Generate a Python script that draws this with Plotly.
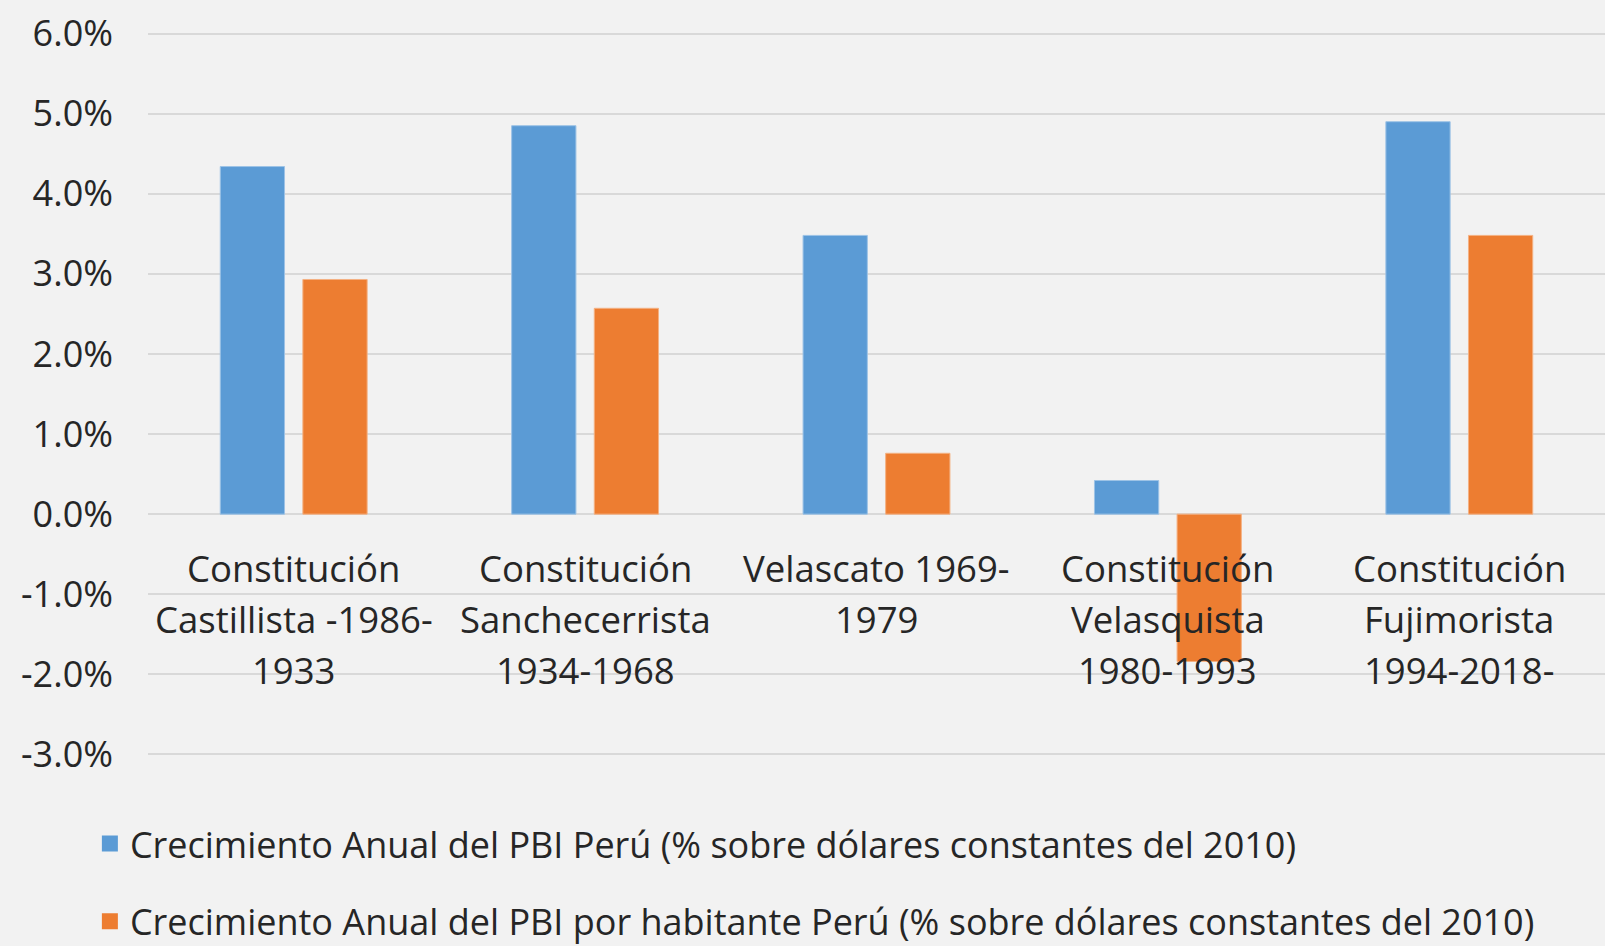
import plotly.graph_objects as go

# periodos constitucionales
periodos = [
    "Constitución<br>Castillista -1986-<br>1933",
    "Constitución<br>Sanchecerrista<br>1934-1968",
    "Velascato 1969-<br>1979",
    "Constitución<br>Velasquista<br>1980-1993",
    "Constitución<br>Fujimorista<br>1994-2018-",
]
pbi = [0.0434, 0.0485, 0.0348, 0.0042, 0.0490]
pbi_hab = [0.0293, 0.0257, 0.0076, -0.0184, 0.0348]

nombre_pbi = "Crecimiento Anual del PBI Perú (% sobre dólares constantes del 2010)"
nombre_hab = "Crecimiento Anual del PBI por habitante Perú (% sobre dólares constantes del 2010)"

y_ticks = [-0.03, -0.02, -0.01, 0, 0.01, 0.02, 0.03, 0.04, 0.05, 0.06]
y_ticktext = ["-3.0%", "-2.0%", "-1.0%", "0.0%", "1.0%", "2.0%", "3.0%", "4.0%", "5.0%", "6.0%"]

FONT = "Open Sans"
TXT = "#262626"
AZUL = "#5B9BD5"
NARANJA = "#ED7D31"

fig = go.Figure()
fig.add_trace(go.Bar(x=periodos, y=pbi, name=nombre_pbi, showlegend=False,
                     marker_color=AZUL, marker_line_color="#9DC3E6", marker_line_width=1))
fig.add_trace(go.Bar(x=periodos, y=pbi_hab, name=nombre_hab, showlegend=False,
                     marker_color=NARANJA, marker_line_color="#F4B183", marker_line_width=1))
# entradas de leyenda con cuadro mas grande
fig.add_trace(go.Scatter(x=[None], y=[None], mode="markers", name=nombre_pbi, legendgroup="a",
                         marker=dict(symbol="square", size=20, color=AZUL)))
fig.add_trace(go.Scatter(x=[None], y=[None], mode="markers", name=nombre_hab, legendgroup="b",
                         marker=dict(symbol="square", size=20, color=NARANJA)))

# etiquetas de categoria junto al eje cero (como en Excel), una anotacion por linea
for p in periodos:
    for i, linea in enumerate(p.split("<br>")):
        fig.add_annotation(x=p, y=0, text=linea, showarrow=False, yanchor="middle",
                           yshift=-(54 + i * 51),
                           font=dict(family=FONT, size=36.5, color=TXT))

fig.update_layout(
    width=1605, height=946,
    paper_bgcolor="#F2F2F2", plot_bgcolor="#F2F2F2",
    margin=dict(l=148, r=0, t=32, b=190, autoexpand=False),
    barmode="group", bargap=0.433, bargroupgap=0.222,
    font=dict(family=FONT, color=TXT),
    legend=dict(orientation="v", xref="container", yref="container",
                x=0.056, y=0.140, xanchor="left", yanchor="top",
                font=dict(family=FONT, size=36, color=TXT),
                tracegroupgap=28, itemwidth=30, bgcolor="rgba(0,0,0,0)"),
    showlegend=True,
)
fig.update_xaxes(showticklabels=False, showgrid=False, zeroline=False, showline=False)
fig.update_yaxes(range=[-0.0302, 0.0602], tickvals=y_ticks, ticktext=y_ticktext,
                 gridcolor="#D9D9D9", gridwidth=2, zeroline=False,
                 tickfont=dict(family=FONT, size=36, color=TXT),
                 ticklabelstandoff=34)

fig.write_html("out.html", config={"displayModeBar": False},
               post_script="document.body.style.margin='0px';")
